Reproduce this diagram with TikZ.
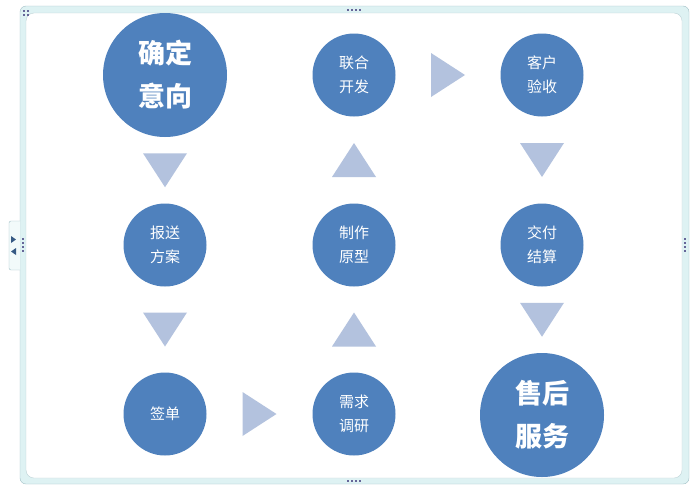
\documentclass[tikz,border=0pt]{standalone}
\usepackage{fontspec}
\setmainfont{Noto Sans CJK SC}
\usetikzlibrary{calc,positioning}
\definecolor{stepblue}{RGB}{79,129,189}
\definecolor{arrowblue}{RGB}{179,194,222}
\definecolor{framecyan}{RGB}{222,242,243}
\definecolor{frameline}{RGB}{160,190,196}

\begin{document}
\begin{tikzpicture}[
    x=1pt,y=-1pt,
    c/.style={circle,fill=stepblue,text=white,inner sep=0pt,align=center},
    s/.style={c,minimum size=83pt,font=\fontsize{15}{24}\selectfont},
    b/.style={c,minimum size=124pt,font=\bfseries\fontsize{27}{43}\selectfont},
    handle/.style={fill=gray!80!blue},
    tri/.pic={\fill[arrowblue] (-17,-22) -- (17,0) -- (-17,22) -- cycle;}
  ]
    \useasboundingbox (0,0) rectangle (698,490);
    % frame
    \draw[frameline,fill=framecyan,rounded corners=6pt] (20,6) rectangle (689,484);
    \draw[frameline!70,fill=white,rounded corners=8pt] (26,13) rectangle (682,478);
    \draw[frameline,fill=framecyan!40,rounded corners=2pt] (20,221) -- (9,221) -- (9,270) -- (20,270);
    \fill[stepblue!70!black] (11,236) -- (16,239.5) -- (11,243) -- cycle;
    \fill[stepblue!70!black] (16,248) -- (11,251.5) -- (16,255) -- cycle;
    \foreach \x in {347,351,355,359} {\fill[handle] (\x,9) rectangle ++(2,2); \fill[handle] (\x,480) rectangle ++(2,2);}
    \foreach \y in {238,242,246,250} {\fill[handle] (22,\y) rectangle ++(2,2); \fill[handle] (684,\y) rectangle ++(2,2);}
    \foreach \x/\y in {23/10,27/10,23/14,27/14} {\fill[handle] (\x,\y) rectangle ++(2,2);}

    \node[b] (yixiang) at (165,75) {确定\\意向};
    \node[s] (kaifa) at (354,75) {联合\\开发}; \node[s] (yanshou) at (542,75) {客户\\验收};
    \node[s] (baosong) at (165,245) {报送\\方案}; \node[s] (yuanxing) at (354,245) {制作\\原型};
    \node[s] (jiesuan) at (542,245) {交付\\结算};
    \node[s] (qiandan) at (165,414) {签单}; \node[s] (xuqiu) at (354,414) {需求\\调研};
    \node[b] (fuwu) at (542,415) {售后\\服务};
    \foreach \a/\p/\b/\q/\r in {yixiang/south/baosong/north/-90,baosong/south/qiandan/north/-90,
      qiandan/east/xuqiu/west/0,xuqiu/north/yuanxing/south/90,yuanxing/north/kaifa/south/90,
      kaifa/east/yanshou/west/0,yanshou/south/jiesuan/north/-90,jiesuan/south/fuwu/north/-90}
      {\pic[rotate=\r] at ($(\a.\p)!.5!(\b.\q)$) {tri};}
  \end{tikzpicture}
\end{document}
